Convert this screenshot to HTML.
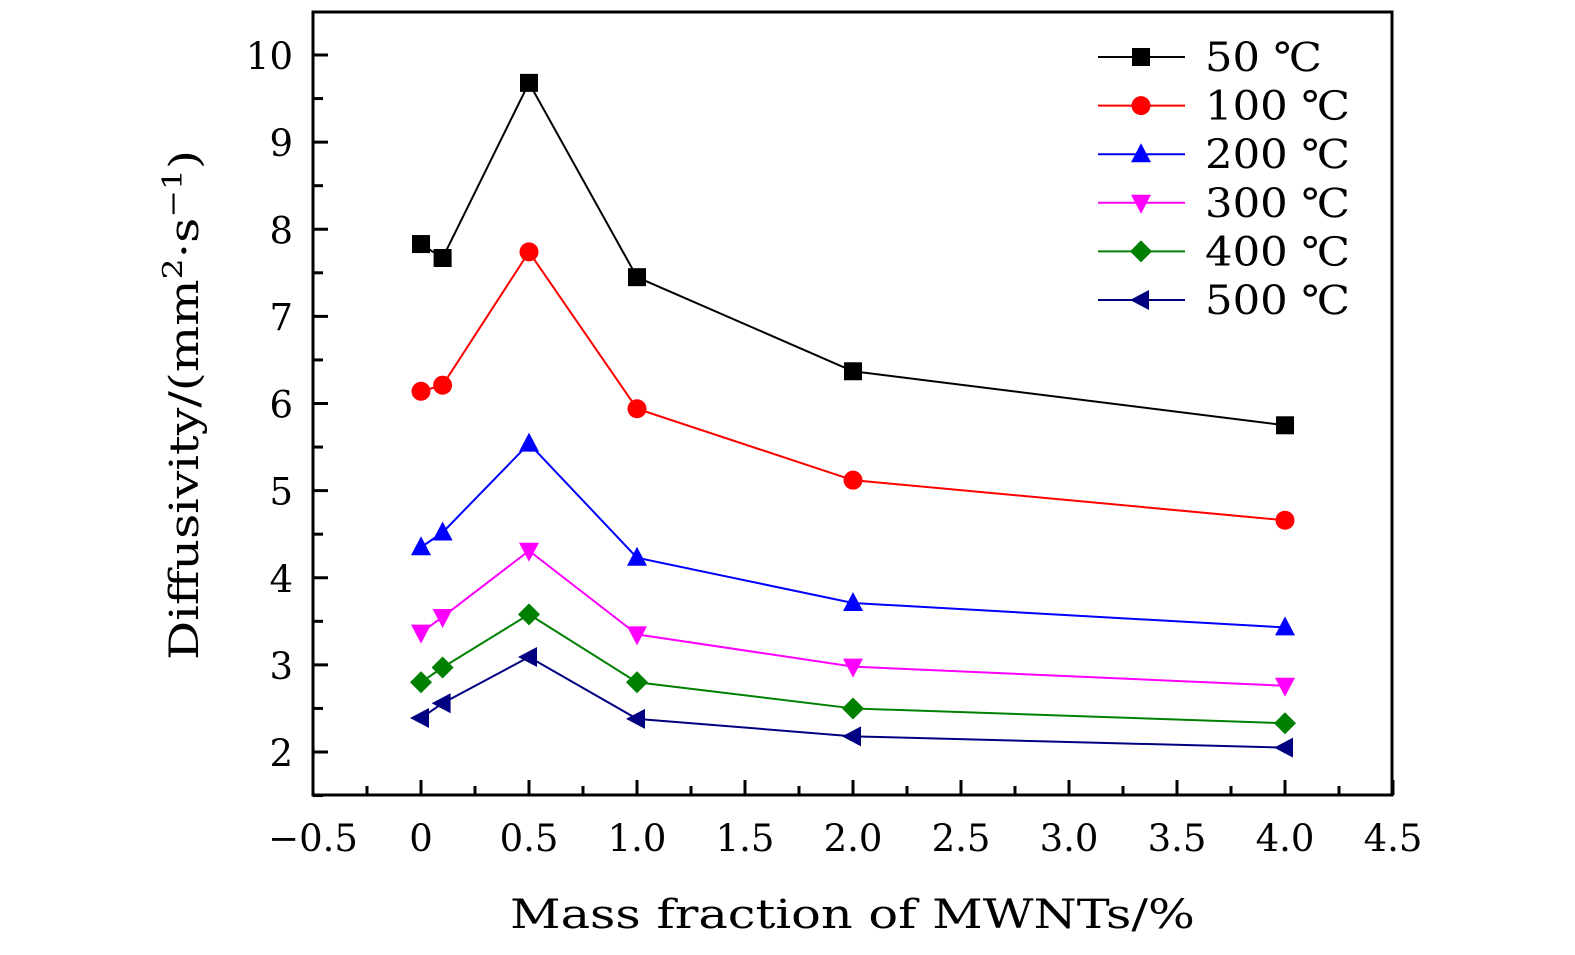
<!DOCTYPE html>
<html><head><meta charset="utf-8"><style>
html,body{margin:0;padding:0;background:#fff;}
svg{display:block;font-family:"DejaVu Serif","Liberation Serif",serif;}
</style></head><body>
<svg id="chart" width="1575" height="955" viewBox="0 0 1575 955" xmlns="http://www.w3.org/2000/svg">
<g id="axes"></g><g id="series"></g><g id="legend"></g>
<text x="510" y="928" font-size="40" textLength="685" lengthAdjust="spacingAndGlyphs">Mass fraction of MWNTs/%</text>
<text transform="translate(198,660) rotate(-90)" font-size="40" textLength="510" lengthAdjust="spacingAndGlyphs">Diffusivity/(mm<tspan font-size="27" dy="-16">2</tspan><tspan dy="16">·s</tspan><tspan font-size="27" dy="-16">−1</tspan><tspan dy="16">)</tspan></text>
</svg>
<script>
const xValues=[0,0.1,0.5,1.0,2.0,4.0];
const seriesNames=["50 ℃","100 ℃","200 ℃","300 ℃","400 ℃","500 ℃"];
const s50=[7.83,7.67,9.68,7.45,6.37,5.75];
const s100=[6.14,6.21,7.74,5.94,5.12,4.66];
const s200=[4.35,4.52,5.54,4.23,3.71,3.43];
const s300=[3.37,3.55,4.31,3.35,2.98,2.76];
const s400=[2.80,2.97,3.58,2.80,2.50,2.33];
const s500=[2.39,2.56,3.09,2.38,2.18,2.05];
const xTicks=[-0.5,0,0.5,1.0,1.5,2.0,2.5,3.0,3.5,4.0,4.5];
const xTickLabels=["−0.5","0","0.5","1.0","1.5","2.0","2.5","3.0","3.5","4.0","4.5"];
const yTicks=[2,3,4,5,6,7,8,9,10];
const allSeries=[s50,s100,s200,s300,s400,s500];
const colors=["#000","#f00","#00f","#f0f","#008000","#000080"];
const markers=["square","circle","up","down","diamond","left"];
const L=313,R=1392,T=12,B=795;
const xs=v=>L+(v+0.5)*216;
const ys=v=>752-(v-2)*87.125;
const NS="http://www.w3.org/2000/svg";
function mk(tag,attrs,parent){const e=document.createElementNS(NS,tag);for(const k in attrs)e.setAttribute(k,attrs[k]);parent.appendChild(e);return e;}
const axes=document.getElementById('axes');
const frame=mk('rect',{x:L,y:T,width:R-L,height:B-T,fill:'none',stroke:'#000','stroke-width':3},axes);


for(let i=0;i<xTicks.length;i++){
  const x=xs(xTicks[i]);
  const t=mk('line',{x1:x,y1:B,x2:x,y2:B-15,stroke:'#000','stroke-width':3},axes);
  
  
  if(i<xTicks.length-1){const m=xs(xTicks[i]+0.25);
    const mt=mk('line',{x1:m,y1:B,x2:m,y2:B-9,stroke:'#000','stroke-width':3},axes);
    
    }
  const lb=mk('text',{x:x,y:851,'font-size':37,'text-anchor':'middle'},axes);
  lb.textContent=xTickLabels[i];
  
  
}
for(let i=0;i<yTicks.length;i++){
  const y=ys(yTicks[i]);
  const t=mk('line',{x1:L,y1:y,x2:L+15,y2:y,stroke:'#000','stroke-width':3},axes);
  
  
  const my=ys(yTicks[i]-0.5);
  const mt=mk('line',{x1:L,y1:my,x2:L+10,y2:my,stroke:'#000','stroke-width':3},axes);
  
  
  const lb=mk('text',{x:293,y:y+14,'font-size':37,'text-anchor':'end'},axes);
  lb.textContent=String(yTicks[i]);
  
  
}
function marker(type,x,y,c,parent){
  let e;const s=9;
  if(type==='square')e=mk('rect',{x:x-s,y:y-s,width:2*s,height:2*s,fill:c},parent);
  else if(type==='circle')e=mk('circle',{cx:x,cy:y,r:9.5,fill:c},parent);
  else{let p;
    if(type==='up')p=[[x,y-11],[x+10,y+8],[x-10,y+8]];
    else if(type==='down')p=[[x,y+11],[x+10,y-8],[x-10,y-8]];
    else if(type==='diamond')p=[[x,y-11],[x+11,y],[x,y+11],[x-11,y]];
    else p=[[x-11,y],[x+8,y-10],[x+8,y+10]];
    e=mk('polygon',{points:p.map(q=>q.join(',')).join(' '),fill:c},parent);}
  return e;
}
const sg=document.getElementById('series');
allSeries.forEach((vals,si)=>{
  const g=mk('g',{},sg);
  
  
  const pl=mk('polyline',{points:vals.map((v,i)=>xs(xValues[i])+','+ys(v)).join(' '),fill:'none',stroke:colors[si],'stroke-width':2},g);
  
  
  vals.forEach((v,i)=>{const m=marker(markers[si],xs(xValues[i]),ys(v),colors[si],g);
    
    });
});
const lg=document.getElementById('legend');
seriesNames.forEach((n,i)=>{
  const y=57+i*48.6;
  const g=mk('g',{},lg);
  
  
  mk('line',{x1:1098,y1:y,x2:1185,y2:y,stroke:colors[i],'stroke-width':2},g);
  marker(markers[i],1141,y,colors[i],g);
  const t=mk('text',{x:1205,y:y+14,'font-size':40,textLength:(n.length>4?145:117),lengthAdjust:'spacingAndGlyphs'},g);
  t.textContent=n;
});
</script>
</body></html>
